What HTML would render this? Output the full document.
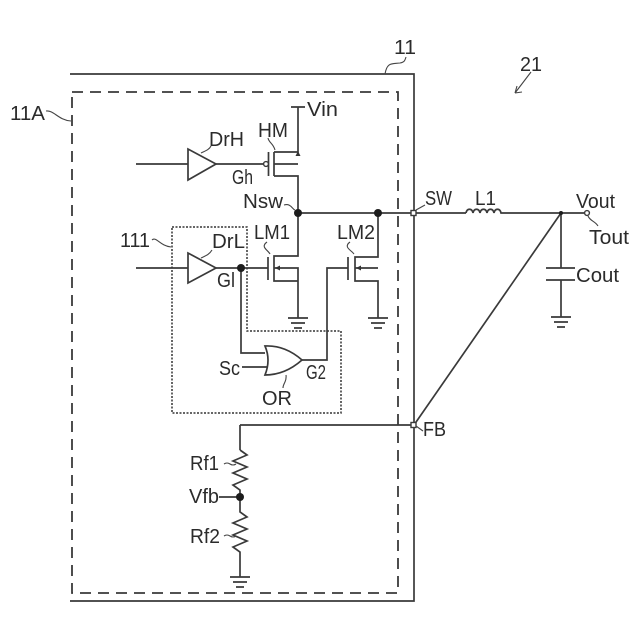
<!DOCTYPE html>
<html>
<head>
<meta charset="utf-8">
<style>
html,body{margin:0;padding:0;background:#fff;width:640px;height:640px;overflow:hidden}
svg{display:block}
text{font-family:"Liberation Sans",sans-serif;font-size:20px;fill:#2b2b2b}
.w{fill:none;stroke:#3a3a3a;stroke-width:1.7}
.t{fill:none;stroke:#444;stroke-width:1.1}
.n{fill:#1c1c1c;stroke:none}
.o{fill:#fff;stroke:#3a3a3a;stroke-width:1.4}
</style>
</head>
<body>
<svg width="640" height="640" viewBox="0 0 640 640" xmlns="http://www.w3.org/2000/svg">
<!-- outer block -->
<path class="w" d="M70 74H414V601H70"/>
<rect x="72" y="92" width="326" height="501" fill="none" stroke="#3a3a3a" stroke-width="1.8" stroke-dasharray="11 7"/>
<!-- dotted block -->
<path d="M172 227H247V331H341V413H172Z" fill="none" stroke="#333" stroke-width="1.5" stroke-dasharray="2 1.5"/>

<!-- HM -->
<path class="w" d="M291 107H305M298 107V152H274M274 152V176M274 164H298M274 176H298V213"/>
<path class="w" d="M136 164H188M216 164H264M268.500 152V176"/>
<path class="w" d="M188 149V180L216 164Z"/>
<circle class="o" cx="266" cy="164" r="2.400"/>
<path d="M298 151L295.500 156H300.500Z" fill="#333"/>

<!-- LM1 -->
<path class="w" d="M298 213V256H274V281H298M274 268H298V318M136 268H188M216 268H268"/>
<path class="w" d="M268 257V280"/>
<path class="w" d="M188 253V283L216 268Z"/>
<path d="M275 268L280 265.500V270.500Z" fill="#333"/>

<!-- LM2 -->
<path class="w" d="M378 213V257H355V281H378V318M355 268H378M348 268H327V360H302M348 257V280"/>
<path d="M356 268L361 265.500V270.500Z" fill="#333"/>

<!-- OR gate -->
<path class="w" d="M241 268V353H265M242 367H267"/>
<path class="w" fill="#fff" d="M265 346Q285 345 302 360Q285 375 265 375Q271 360 265 346Z"/>

<!-- main lines -->
<path class="w" d="M298 213H466M505 213H584M561 213V268M561 280V317M561 213L414 425M240 425H411M240 425V450"/>
<path class="w" d="M466 213c1-5 6-5 7 0c1-5 6-5 7 0c1-5 6-5 7 0c1-5 6-5 7 0c1-5 6-5 7 0q2 0 4 0"/>
<!-- capacitor -->
<path class="w" d="M546 268H575M546 280H575"/>

<!-- resistors -->
<path class="w" d="M240 450L247 455L233 461L247 467L233 473L247 479L233 485L240 490V512L247 517L233 523L247 529L233 535L247 541L233 547L240 552V577M219 497H240"/>

<!-- grounds -->
<path class="w" d="M288 318H308M291 323H305M294 328H302"/>
<path class="w" d="M368 318H388M371 323H385M374 328H382"/>
<path class="w" d="M551 317H571M554 322H568M557 327H565"/>
<path class="w" d="M230 577H250M233 582H247M236 587H244"/>

<!-- nodes -->
<circle class="n" cx="298" cy="213" r="4"/>
<circle class="n" cx="378" cy="213" r="4"/>
<circle class="n" cx="241" cy="268" r="4"/>
<circle class="n" cx="240" cy="497" r="4"/>
<circle class="n" cx="561" cy="213" r="2"/>
<rect class="o" x="411" y="210.500" width="5" height="5"/>
<rect class="o" x="411" y="422.500" width="5" height="5"/>
<circle class="o" cx="587" cy="213" r="2.400"/>

<!-- leaders -->
<path class="t" d="M385 74C387 62 392 64 400 63C405 62 405 60 406 57"/>
<path class="t" d="M531 72L515 93M515 93L522 92M515 93L517 86"/>
<path class="t" d="M46 111C54 110 58 120 71 121"/>
<path class="t" d="M268 138C269 143 273 143 275 150"/>
<path class="t" d="M201 153C205 151 209 150 211 146"/>
<path class="t" d="M284 205C291 203 292 209 295 210"/>
<path class="t" d="M416 210L425 205"/>
<path class="t" d="M588 216C590 221 595 221 598 226"/>
<path class="t" d="M152 240C156 236 160 246 171 247"/>
<path class="t" d="M201 258C205 256 209 255 212 250"/>
<path class="t" d="M267 242C260 247 268 250 270 254"/>
<path class="t" d="M350 242C343 247 351 250 354 254"/>
<path class="t" d="M286 375C287 382 283 383 283 388"/>
<path class="t" d="M416 426L423 431"/>
<path class="t" d="M224 464Q227 462 230 464T236 464"/>
<path class="t" d="M224 536Q227 534 230 536T236 536"/>

<!-- labels -->
<text x="394" y="54" textLength="22" lengthAdjust="spacingAndGlyphs">11</text>
<text x="520" y="71" textLength="22" lengthAdjust="spacingAndGlyphs">21</text>
<text x="10" y="120" textLength="35" lengthAdjust="spacingAndGlyphs">11A</text>
<text x="307" y="116" textLength="31" lengthAdjust="spacingAndGlyphs">Vin</text>
<text x="258" y="137" textLength="30" lengthAdjust="spacingAndGlyphs">HM</text>
<text x="209" y="146" textLength="35" lengthAdjust="spacingAndGlyphs">DrH</text>
<text x="232" y="184" textLength="21" lengthAdjust="spacingAndGlyphs">Gh</text>
<text x="243" y="208" textLength="40" lengthAdjust="spacingAndGlyphs">Nsw</text>
<text x="425" y="205" textLength="27" lengthAdjust="spacingAndGlyphs">SW</text>
<text x="475" y="205" textLength="21" lengthAdjust="spacingAndGlyphs">L1</text>
<text x="576" y="208" textLength="39" lengthAdjust="spacingAndGlyphs">Vout</text>
<text x="589" y="244" textLength="40" lengthAdjust="spacingAndGlyphs">Tout</text>
<text x="576" y="282" textLength="43" lengthAdjust="spacingAndGlyphs">Cout</text>
<text x="120" y="247" textLength="30" lengthAdjust="spacingAndGlyphs">111</text>
<text x="212" y="248" textLength="33" lengthAdjust="spacingAndGlyphs">DrL</text>
<text x="254" y="239" textLength="36" lengthAdjust="spacingAndGlyphs">LM1</text>
<text x="337" y="239" textLength="38" lengthAdjust="spacingAndGlyphs">LM2</text>
<text x="217" y="287" textLength="18" lengthAdjust="spacingAndGlyphs">Gl</text>
<text x="219" y="375" textLength="21" lengthAdjust="spacingAndGlyphs">Sc</text>
<text x="306" y="379" textLength="20" lengthAdjust="spacingAndGlyphs">G2</text>
<text x="262" y="405" textLength="30" lengthAdjust="spacingAndGlyphs">OR</text>
<text x="423" y="436" textLength="23" lengthAdjust="spacingAndGlyphs">FB</text>
<text x="190" y="470" textLength="29" lengthAdjust="spacingAndGlyphs">Rf1</text>
<text x="189" y="503" textLength="30" lengthAdjust="spacingAndGlyphs">Vfb</text>
<text x="190" y="543" textLength="30" lengthAdjust="spacingAndGlyphs">Rf2</text>
</svg>
</body>
</html>
